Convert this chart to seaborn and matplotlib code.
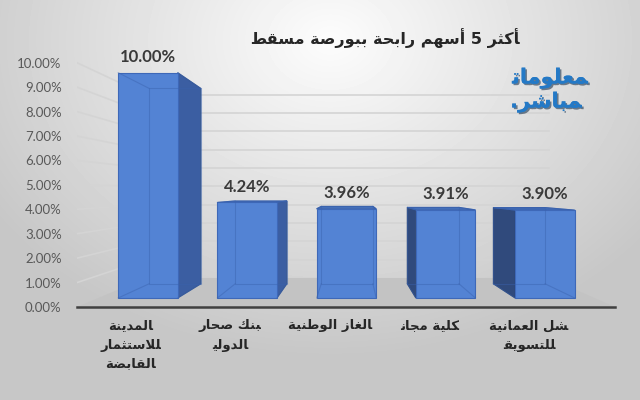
import numpy as np
import pandas as pd
import seaborn as sns
import matplotlib.pyplot as plt
import matplotlib.patheffects as pe
from matplotlib.patches import Polygon
from matplotlib.transforms import Affine2D

# data
companies = ["المدينة\nللاستثمار\nالقابضة", "بنك صحار\nالدولي", "الغاز الوطنية",
             "كلية مجان", "شل العمانية\nللتسويق"]
gains = [10.00, 4.24, 3.96, 3.91, 3.90]
yticks = list(range(0, 11))
title = "أكثر 5 أسهم رابحة ببورصة مسقط"
logo = ["معلومات", "مباشر."]

# --- tiny arabic shaper (matplotlib has no bidi / joining) ---
DUAL = "ئبتثجحخسشصضطظعغفقكلمنهي"
RIGHT = "آأؤإادذرزوىة"
FORMS = {}
code = 0xFE80
for ch in "ءآأؤإئابةتثجحخدذرزسشصضطظعغفقكلمنهوىي":
    FORMS[ch] = code
    code += 1 if ch == "ء" else (2 if ch in RIGHT else 4)
LAMALEF = {"آ": 0xFEF5, "أ": 0xFEF7, "إ": 0xFEF9, "ا": 0xFEFB}


def shape_line(text):
    out = []
    i = 0
    n = len(text)
    while i < n:
        c = text[i]
        if c not in FORMS:
            out.append(c)
            i += 1
            continue
        prev = text[i - 1] if i > 0 else ""
        link_prev = prev in DUAL and c != "ء"
        if c == "ل" and i + 1 < n and text[i + 1] in LAMALEF:
            out.append(chr(LAMALEF[text[i + 1]] + int(link_prev)))
            i += 2
            continue
        nxt = text[i + 1] if i + 1 < n else ""
        link_next = c in DUAL and (nxt in DUAL or nxt in RIGHT)
        if link_prev and link_next:
            form = 3
        elif link_prev:
            form = 1
        elif link_next:
            form = 2
        else:
            form = 0
        out.append(chr(FORMS[c] + form))
        i += 1
    return "".join(reversed(out))


def ar(text):
    return "\n".join(shape_line(t) for t in text.split("\n"))


# 3d look: everything is scaled toward a vanishing point
VX, VY = 2.05, 4.75
S_FRONT, S_BACK, S_WALL = 0.922, 0.80, 0.75
BAR_W = 0.6


def proj(x, y, s):
    return (VX + s * (x - VX), VY + s * (y - VY))


fig = plt.figure(figsize=(6.4, 4), dpi=100)

# background gradient
bg = fig.add_axes([0, 0, 1, 1], zorder=-5)
yy, xx = np.mgrid[0:400, 0:640]
r = np.sqrt(((xx - 330) / 420.0) ** 2 + ((yy - 40) / 330.0) ** 2)
shade = np.clip(0.99 - 0.22 * r, 0.78, 0.99)
bg.imshow(shade, cmap="gray", vmin=0, vmax=1, aspect="auto", extent=[0, 1, 0, 1], origin="upper")
bg.axis("off")

ax = fig.add_axes([77 / 640, 93 / 400, 538 / 640, 268.7 / 400])
ax.set_facecolor("none")

df = pd.DataFrame({"company": [ar(c) for c in companies], "gain": gains})

# front faces, then the back edges seen through them
sns.barplot(data=df, x="company", y="gain", width=BAR_W, color="#5383d4", saturation=1,
            edgecolor="#3e68b8", linewidth=0.8, errorbar=None, ax=ax, zorder=4)
sns.barplot(data=df, x="company", y="gain", width=BAR_W, fill=False, saturation=1,
            edgecolor="#3a62ad", linewidth=0.8, errorbar=None, ax=ax, zorder=4.5)
front_bars = ax.patches[:5]
back_bars = ax.patches[5:10]


def plane(s):
    return Affine2D().translate(-VX, -VY).scale(s).translate(VX, VY) + ax.transData


for p in front_bars:
    p.set_transform(plane(S_FRONT))
for p in back_bars:
    p.set_transform(plane(S_BACK))
    p.set_alpha(0.45)

ax.set_xlim(-0.5, 4.5)
ax.set_ylim(0, 11)

# floor
floor = Polygon([proj(-0.5, 0, 1), proj(4.5, 0, 1), proj(4.5, 0, S_WALL), proj(-0.5, 0, S_WALL)],
                closed=True, facecolor="#c3c3c3", edgecolor="none", zorder=1)
ax.add_patch(floor)
ax.plot([-0.5, 4.5], [0, 0], color="#404040", lw=1.8, zorder=5, clip_on=False)

# gridlines on back wall and left wall
for t in yticks[1:]:
    x0, y0 = proj(-0.5, t, S_WALL)
    x1, y1 = proj(4.5, t, S_WALL)
    ax.plot([x0, x1], [y0, y1], color="#d4d4d4", lw=1.2, zorder=0.5)
    fx, fy = proj(-0.5, t, 1)
    ax.plot([fx, x0], [fy, y0], color="#d4d4d4", lw=1.2, zorder=0.5)

# side and top faces, plus the depth edges
for i, v in enumerate(gains):
    x0, x1 = i - BAR_W / 2, i + BAR_W / 2
    if x1 < VX:
        pts = [proj(x1, 0, S_FRONT), proj(x1, v, S_FRONT), proj(x1, v, S_BACK), proj(x1, 0, S_BACK)]
        ax.add_patch(Polygon(pts, closed=True, facecolor="#3b5ea2", edgecolor="#34558f",
                             lw=0.8, zorder=3))
    if x0 > VX:
        pts = [proj(x0, 0, S_FRONT), proj(x0, v, S_FRONT), proj(x0, v, S_BACK), proj(x0, 0, S_BACK)]
        ax.add_patch(Polygon(pts, closed=True, facecolor="#304a7c", edgecolor="#2c4572",
                             lw=0.8, zorder=3))
    if v < VY:
        pts = [proj(x0, v, S_FRONT), proj(x1, v, S_FRONT), proj(x1, v, S_BACK), proj(x0, v, S_BACK)]
        ax.add_patch(Polygon(pts, closed=True, facecolor="#4470bb", edgecolor="#3a62ad",
                             lw=0.8, zorder=3))
    for cx in (x0, x1):
        for cy in (0, v):
            a = proj(cx, cy, S_FRONT)
            b = proj(cx, cy, S_BACK)
            ax.plot([a[0], b[0]], [a[1], b[1]], color="#3a62ad", lw=0.8, alpha=0.45, zorder=4.5)
    lx, ly = proj(i, v, S_FRONT)
    ax.annotate(f"{v:.2f}%", xy=(lx, ly), xytext=(0, 5.5), textcoords="offset points",
                ha="center", va="bottom", fontsize=12, fontweight="bold",
                family="Lato", color="#3a3a3a", zorder=6)

# axes text
label_x = np.arange(len(companies)) * 0.925
ax.set_xticks(label_x, df["company"])
for lab in ax.get_xticklabels():
    lab.set_family("DejaVu Sans")
    lab.set_fontweight("bold")
    lab.set_fontsize(9.5)
    lab.set_color("#262626")
    lab.set_linespacing(1.6)
ax.set_yticks(yticks, [f"{t:.2f}%" for t in yticks])
for lab in ax.get_yticklabels():
    lab.set_family("Lato")
    lab.set_fontsize(9.5)
    lab.set_color("#595959")
ax.tick_params(axis="both", length=0)
ax.tick_params(axis="y", pad=11)
ax.tick_params(axis="x", pad=9)
ax.set_xlabel("")
ax.set_ylabel("")
for sp in ax.spines.values():
    sp.set_visible(False)

fig.text(0.602, 0.905, ar(title), ha="center", va="center", fontsize=11.5,
         fontweight="bold", family="DejaVu Sans", color="#262626")

shadow = [pe.withSimplePatchShadow(offset=(1.2, -1.2), shadow_rgbFace="#1c3550", alpha=0.6), pe.Normal()]
fig.text(550 / 640, 1 - 78 / 400, ar(logo[0]), ha="center", va="center", fontsize=15,
         fontweight="bold", family="DejaVu Sans", color="#2479c6", path_effects=shadow)
fig.text(546 / 640, 1 - 102 / 400, ar(logo[1]), ha="center", va="center", fontsize=15,
         fontweight="bold", family="DejaVu Sans", color="#2479c6", path_effects=shadow)

fig.savefig("out.png", dpi=100)
